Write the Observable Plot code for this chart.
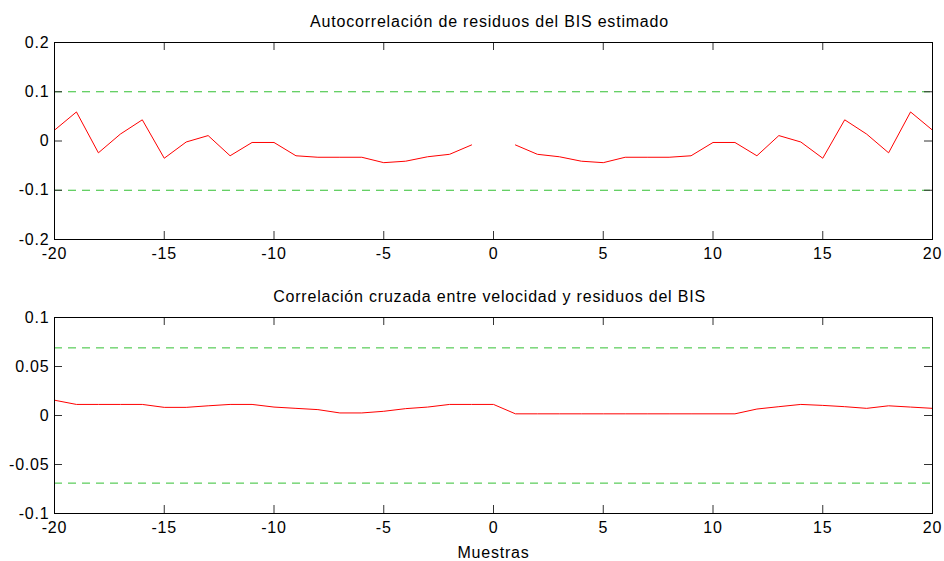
<!DOCTYPE html>
<html>
<head>
<meta charset="utf-8">
<script src="https://cdn.jsdelivr.net/npm/d3@7"></script>
<script src="https://cdn.jsdelivr.net/npm/@observablehq/plot@0.6"></script>
<style>
  html, body { margin: 0; padding: 0; background: #fff; }
  #wrap { position: relative; width: 944px; height: 561px; overflow: hidden; }
  #wrap > div { position: absolute; left: 0; }
</style>
</head>
<body>
<div id="wrap"><div id="p1" style="top:0"></div><div id="p2" style="top:270px"></div></div>
<script>
// ---- data ----
const lags = [-20,-19,-18,-17,-16,-15,-14,-13,-12,-11,-10,-9,-8,-7,-6,-5,-4,-3,-2,-1,0,1,2,3,4,5,6,7,8,9,10,11,12,13,14,15,16,17,18,19,20];
// autocorrelation of residuals (lag 0 not drawn)
const autoCorr = [0.022,0.059,-0.024,0.014,0.043,-0.035,-0.002,0.011,-0.030,-0.003,-0.003,-0.030,-0.033,-0.033,-0.033,-0.044,-0.041,-0.032,-0.027,-0.008,
  null,
  -0.008,-0.027,-0.032,-0.041,-0.044,-0.033,-0.033,-0.033,-0.030,-0.003,-0.003,-0.030,0.011,-0.002,-0.035,0.043,0.014,-0.024,0.059,0.022];
// cross-correlation speed vs residuals
const crossCorr = [0.0156,0.0113,0.0113,0.0113,0.0113,0.0083,0.0083,0.0099,0.0113,0.0113,0.0086,0.0073,0.0060,0.0026,0.0026,0.0043,0.0070,0.0086,0.0113,0.0113,
  0.0113,
  0.0017,0.0017,0.0017,0.0017,0.0017,0.0017,0.0017,0.0017,0.0017,0.0017,0.0017,0.0066,0.0090,0.0113,0.0103,0.0090,0.0073,0.0099,0.0086,0.0073];
const autoConf = [0.1, -0.1];
const crossConf = [0.069, -0.069];
const xTicks = [-20,-15,-10,-5,0,5,10,15,20];
const yTicksTop = [-0.2,-0.1,0,0.1,0.2];
const yTicksBottom = [-0.1,-0.05,0,0.05,0.1];
const titleTop = "Autocorrelación de residuos del BIS estimado";
const titleBottom = "Correlación cruzada entre velocidad y residuos del BIS";
const xLabel = "Muestras";

const autoData = lags.map((l, i) => ({lag: l, v: autoCorr[i]}));
const crossData = lags.map((l, i) => ({lag: l, v: crossCorr[i]}));

const W = 944, ML = 54, MR = 12;
const fw = W - ML - MR;
const style = {fontFamily: "'Liberation Sans', Arial, sans-serif", fontSize: "16px", letterSpacing: "0.8px", color: "#000", background: "#fff", overflow: "visible"};
const fmt = d => String(d);

function panel({height, mt, mb, yDomain, yTicks, data, conf, title, titleDy, xlab}) {
  const fh = height - mt - mb;
  const marks = [
    Plot.ruleY(conf, {stroke: "#33c033", strokeWidth: 1, strokeDasharray: "8,6"}),
    Plot.line(data, {x: "lag", y: "v", stroke: "#ff0000", strokeWidth: 1}),
    // inward ticks
    Plot.tickX(xTicks, {x: d => d, insetTop: fh - 8, stroke: "#333"}),
    Plot.tickX(xTicks, {x: d => d, insetBottom: fh - 8, stroke: "#333"}),
    Plot.tickY(yTicks, {y: d => d, insetRight: fw - 8, stroke: "#333"}),
    Plot.tickY(yTicks, {y: d => d, insetLeft: fw - 8, stroke: "#333"}),
    Plot.axisX({ticks: xTicks, tickSize: 0, tickPadding: 8, tickFormat: fmt, label: null}),
    Plot.axisY({ticks: yTicks, tickSize: 0, tickPadding: 5, tickFormat: fmt, label: null}),
    Plot.frame({stroke: "#000", strokeWidth: 1}),
    Plot.text([title], {frameAnchor: "top", text: d => d, dy: titleDy, dx: -4, lineAnchor: "middle", fill: "#000"})
  ];
  if (xlab) marks.push(Plot.text([xlab], {frameAnchor: "bottom", text: d => d, dy: 39, lineAnchor: "middle", fill: "#000"}));
  return Plot.plot({
    width: W, height,
    marginLeft: ML, marginRight: MR, marginTop: mt, marginBottom: mb,
    x: {domain: [-20, 20]},
    y: {domain: yDomain},
    style,
    marks
  });
}

document.getElementById("p1").append(panel({
  height: 270, mt: 42, mb: 31, yDomain: [-0.2, 0.2], yTicks: yTicksTop,
  data: autoData, conf: autoConf, title: titleTop, titleDy: -21
}));
document.getElementById("p2").append(panel({
  height: 291, mt: 47, mb: 48, yDomain: [-0.1, 0.1], yTicks: yTicksBottom,
  data: crossData, conf: crossConf, title: titleBottom, titleDy: -21, xlab: xLabel
}));
</script>
</body>
</html>
